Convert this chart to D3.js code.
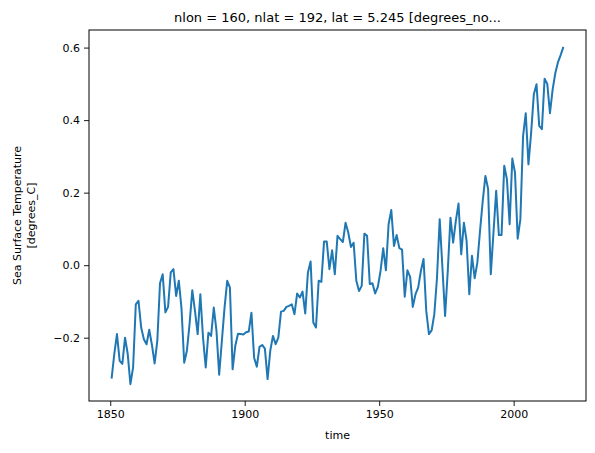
<!DOCTYPE html>
<html>
<head>
<meta charset="utf-8">
<script src="https://cdn.jsdelivr.net/npm/d3@7"></script>
<style>
  body { margin: 0; background: #fff; }
  text { font-family: "DejaVu Sans", sans-serif; fill: #000; }
</style>
</head>
<body>
<div class="chart"></div>
<script>
var startYear = 1850;
var sst = [
  -0.313, -0.245, -0.19, -0.264, -0.272, -0.2, -0.245, -0.328, -0.282, -0.108,
  -0.098, -0.172, -0.204, -0.218, -0.178, -0.22, -0.271, -0.209, -0.05, -0.025,
  -0.13, -0.115, -0.02, -0.011, -0.085, -0.043, -0.12, -0.269, -0.236, -0.162,
  -0.069, -0.126, -0.19, -0.08,
  -0.2, -0.282, -0.186, -0.195, -0.117, -0.181, -0.302, -0.209, -0.117, -0.043,
  -0.062, -0.287, -0.222, -0.189, -0.19, -0.191, -0.185, -0.183, -0.131, -0.255,
  -0.28, -0.225, -0.22, -0.23, -0.314, -0.236, -0.195, -0.218, -0.2, -0.128,
  -0.126, -0.115, -0.112, -0.108, -0.135, -0.078,
  -0.089, -0.073, -0.133, -0.02, 0.01, -0.158, -0.172, -0.043, -0.046, 0.065,
  0.065, -0.011, 0.041, -0.025, 0.081, 0.072, 0.064, 0.117, 0.09, 0.05,
  0.062, -0.043, -0.071, -0.057, 0.087, 0.081, -0.052, -0.05, -0.078, -0.06,
  -0.016, 0.047, -0.014, 0.113, 0.152,
  0.053, 0.083, 0.047, 0.043, -0.087, -0.014, -0.032, -0.115, -0.08, -0.062,
  -0.016, 0.017, -0.126, -0.19, -0.18, -0.135, -0.034, 0.127, -0.005, -0.14,
  -0.016, 0.131, 0.062, 0.122, 0.17, 0.03, 0.117, 0.067, -0.08, 0.026,
  -0.036, 0.007, 0.095, 0.177, 0.246,
  0.21, -0.025, 0.09, 0.205, 0.083, 0.083, 0.274, 0.237, 0.113, 0.294,
  0.255, 0.073, 0.127, 0.356, 0.419, 0.278, 0.365, 0.471, 0.499, 0.384,
  0.375, 0.514, 0.5, 0.419, 0.485, 0.53, 0.56, 0.58, 0.602
];
var xTicks = [1850, 1900, 1950, 2000];
var yTicks = [-0.2, 0.0, 0.2, 0.4, 0.6];

var data = sst.map((v, i) => ({ t: startYear + i + 0.5, v: v }));

var W = 595, H = 453;
var mLeft = 89, mRight = 586, mTop = 30, mBottom = 401;

// matplotlib-like 5% padding around the data
function padded(ext) {
  var p = (ext[1] - ext[0]) * 0.05;
  return [ext[0] - p, ext[1] + p];
}

var x = d3.scaleLinear().domain(padded(d3.extent(data, d => d.t))).range([mLeft, mRight]);
var y = d3.scaleLinear().domain(padded(d3.extent(data, d => d.v))).range([mBottom, mTop]);

var svg = d3.select('.chart').append('svg')
    .attr('width', W)
    .attr('height', H);

svg.append('path')
  .datum(data)
  .attr('fill', 'none')
  .attr('stroke', '#1f77b4')
  .attr('stroke-width', 2)
  .attr('stroke-linejoin', 'round')
  .attr('d', d3.line().x(d => x(d.t)).y(d => y(d.v)));

var xAxis = svg.append('g')
  .attr('transform', 'translate(0,' + mBottom + ')')
  .call(d3.axisBottom(x).tickValues(xTicks).tickFormat(d3.format('d')).tickSize(5).tickPadding(4));

var yAxis = svg.append('g')
  .attr('transform', 'translate(' + mLeft + ',0)')
  .call(d3.axisLeft(y).tickValues(yTicks)
    .tickFormat(d => d3.format('.1f')(d).replace('-', '\u2212')).tickSize(5).tickPadding(4));

[xAxis, yAxis].forEach(g => {
  g.select('.domain').remove();
  g.selectAll('text').style('font-size', '11px').style('font-family', '"DejaVu Sans", sans-serif');
  g.selectAll('line').attr('stroke', '#000').attr('stroke-width', 0.9);
});

// frame
svg.append('rect')
  .attr('x', mLeft).attr('y', mTop)
  .attr('width', mRight - mLeft).attr('height', mBottom - mTop)
  .attr('fill', 'none').attr('stroke', '#000').attr('stroke-width', 1);

svg.append('text')
  .attr('x', (mLeft + mRight) / 2).attr('y', 22)
  .attr('text-anchor', 'middle')
  .style('font-size', '13px')
  .text('nlon = 160, nlat = 192, lat = 5.245 [degrees_no...');

svg.append('text')
  .attr('x', (mLeft + mRight) / 2).attr('y', 439)
  .attr('text-anchor', 'middle')
  .style('font-size', '11px')
  .text('time');

var yl = svg.append('text')
  .attr('transform', 'translate(21,' + (mTop + mBottom) / 2 + ') rotate(-90)')
  .attr('text-anchor', 'middle')
  .style('font-size', '11px');
yl.append('tspan').attr('x', 0).attr('dy', 0).text('Sea Surface Temperature');
yl.append('tspan').attr('x', 0).attr('dy', 14).text('[degrees_C]');
</script>
</body>
</html>
